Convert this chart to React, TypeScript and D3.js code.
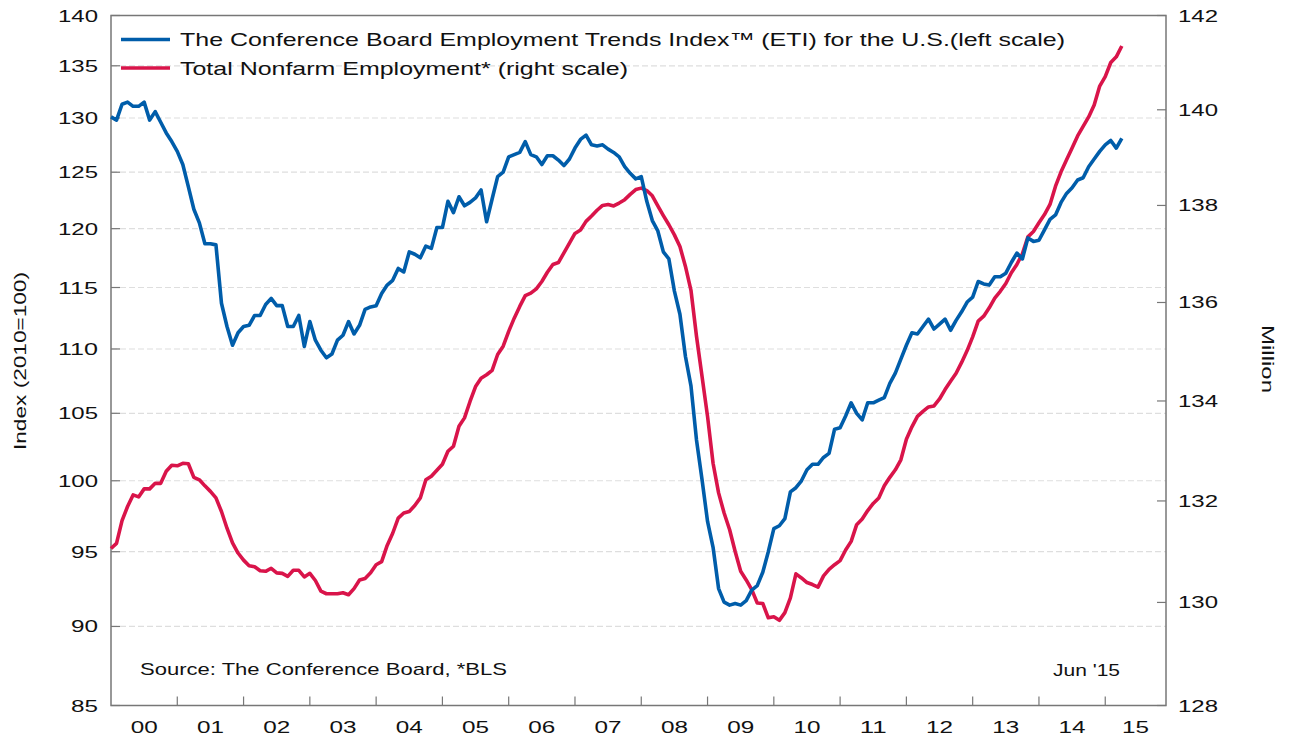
import React from 'react'
import * as d3 from 'd3'

const WIDTH = 1291
const HEIGHT = 740
const LEFT = 111
const RIGHT = 1166
const TOP = 15.5
const BOTTOM = 705.5
const LAST_MONTH = 191 // right edge of the frame, in months after Jan 2000

const BLUE = '#005DAA'
const RED = '#D9144A'
const FONT = '"Liberation Sans", Arial, sans-serif'

const YEAR_LABELS = ['00', '01', '02', '03', '04', '05', '06', '07', '08', '09', '10', '11', '12', '13', '14', '15']
const LEFT_TICKS = [85, 90, 95, 100, 105, 110, 115, 120, 125, 130, 135, 140]
const RIGHT_TICKS = [128, 130, 132, 134, 136, 138, 140, 142]

// Employment Trends Index, monthly from Jan 2000
const eti = [
  130.1, 129.8, 131.3, 131.5, 131.1, 131.1, 131.5, 129.8, 130.6, 129.6, 128.6, 127.8,
  126.9, 125.7, 123.7, 121.7, 120.5, 118.7, 118.7, 118.6, 113.7, 111.8, 110.3, 111.3,
  111.8, 111.9, 112.7, 112.7, 113.6, 114.1, 113.5, 113.5, 111.8, 111.8, 112.7, 110.2,
  112.2, 110.7, 109.9, 109.3, 109.6, 110.7, 111.1, 112.2, 111.2, 111.9, 113.2, 113.4,
  113.5, 114.5, 115.2, 115.6, 116.6, 116.3, 118.0, 117.8, 117.5, 118.5, 118.3, 120.1,
  120.1, 122.4, 121.4, 122.8, 122.0, 122.3, 122.7, 123.4, 120.6, 122.6, 124.6, 125.0,
  126.4, 126.6, 126.8, 127.8, 126.6, 126.4, 125.7, 126.5, 126.5, 126.1, 125.6, 126.2,
  127.2, 128.0, 128.4, 127.5, 127.4, 127.5, 127.1, 126.8, 126.4, 125.5, 124.9, 124.4,
  124.6, 122.4, 120.7, 119.8, 118.0, 117.4, 114.7, 112.8, 109.4, 107.1, 103.0, 100.1,
  97.1, 95.3, 92.5, 91.6, 91.4, 91.5, 91.4, 91.7, 92.4, 92.7, 93.6, 95.0,
  96.6, 96.8, 97.3, 99.2, 99.5, 100.0, 100.8, 101.2, 101.2, 101.7, 102.0, 103.8,
  103.9, 104.8, 105.8, 105.0, 104.5, 105.8, 105.8, 106.0, 106.2, 107.3, 108.1, 109.2,
  110.3, 111.3, 111.2, 111.8, 112.4, 111.6, 112.0, 112.4, 111.5, 112.3, 113.0, 113.8,
  114.2, 115.5, 115.3, 115.2, 115.9, 115.9, 116.2, 117.1, 117.9, 117.4, 119.2, 118.9,
  119.0, 119.9, 120.8, 121.2, 122.3, 123.1, 123.6, 124.3, 124.5, 125.5, 126.2, 126.9,
  127.5, 127.9, 127.2, 128.1,
]

// Total nonfarm employment (millions), monthly from Jan 2000
const nonfarm = [
  131.06, 131.16, 131.61, 131.89, 132.12, 132.08, 132.24, 132.24, 132.35, 132.35, 132.59, 132.71,
  132.70, 132.75, 132.74, 132.47, 132.42, 132.30, 132.19, 132.06, 131.79, 131.46, 131.17, 130.97,
  130.83, 130.72, 130.70, 130.62, 130.61, 130.67, 130.58, 130.57, 130.51, 130.63, 130.63, 130.50,
  130.57, 130.43, 130.22, 130.17, 130.17, 130.17, 130.19, 130.15, 130.27, 130.44, 130.47, 130.58,
  130.74, 130.80, 131.12, 131.36, 131.66, 131.76, 131.79, 131.91, 132.06, 132.42, 132.49, 132.61,
  132.73, 132.99, 133.09, 133.49, 133.66, 133.99, 134.29, 134.46, 134.53, 134.62, 134.94, 135.11,
  135.41, 135.68, 135.92, 136.14, 136.19, 136.28, 136.43, 136.62, 136.78, 136.82, 137.02, 137.22,
  137.42, 137.49, 137.67, 137.78, 137.90, 138.00, 138.02, 137.99, 138.05, 138.12, 138.23, 138.33,
  138.36, 138.31, 138.20, 137.99, 137.79, 137.60, 137.39, 137.15, 136.74, 136.25, 135.31, 134.50,
  133.69, 132.75, 132.16, 131.76, 131.43, 131.00, 130.61, 130.44, 130.25, 129.99, 129.98, 129.70,
  129.72, 129.65, 129.80, 130.09, 130.56, 130.48, 130.39, 130.35, 130.30, 130.52, 130.65, 130.74,
  130.82, 131.03, 131.20, 131.53, 131.64, 131.81, 131.95, 132.06, 132.30, 132.47, 132.62, 132.82,
  133.23, 133.48, 133.69, 133.79, 133.88, 133.90, 134.04, 134.23, 134.40, 134.56, 134.78, 135.02,
  135.30, 135.62, 135.72, 135.89, 136.09, 136.23, 136.39, 136.61, 136.78, 137.00, 137.35, 137.46,
  137.64, 137.81, 138.02, 138.40, 138.70, 138.95, 139.20, 139.45, 139.65, 139.85, 140.10, 140.50,
  140.70, 141.00, 141.12, 141.35,
]

const x = d3.scaleLinear().domain([0, LAST_MONTH]).range([LEFT, RIGHT])
const yLeft = d3.scaleLog().domain([85, 140]).range([BOTTOM, TOP])
const yRight = d3.scaleLog().domain([128, 142]).range([BOTTOM, TOP])

const etiLine = d3.line<number>()
  .x((_, i) => x(i))
  .y(d => yLeft(d))

const nonfarmLine = d3.line<number>()
  .x((_, i) => x(i))
  .y(d => yRight(d))

function Label({ x, y, width, size = 17, anchor = 'start', rotate = 0, children }: any) {
  return (
    <text
      transform={`translate(${x},${y}) rotate(${rotate})`}
      fontSize={size}
      textAnchor={anchor}
      textLength={width}
      lengthAdjust="spacingAndGlyphs"
      fill="#111"
    >
      {children}
    </text>
  )
}

export default function App() {
  return (
    <svg
      width={WIDTH}
      height={HEIGHT}
      style={{ position: 'absolute', left: 0, top: 0, background: '#fff' }}
      fontFamily={FONT}
    >
      {/* grid */}
      {LEFT_TICKS.slice(1, -1).map(t => (
        <line key={t} x1={LEFT} x2={RIGHT} y1={yLeft(t)} y2={yLeft(t)}
          stroke="#dedede" strokeWidth={1.2} strokeDasharray="6 3" />
      ))}

      {/* left ticks and labels */}
      {LEFT_TICKS.map(t => (
        <g key={t}>
          <line x1={LEFT} x2={LEFT + 9} y1={yLeft(t)} y2={yLeft(t)} stroke="#777" strokeWidth={1.2} />
          <Label x={98} y={yLeft(t) + 6} width={t >= 100 ? 40 : 27} anchor="end">{t}</Label>
        </g>
      ))}

      {/* right ticks and labels */}
      {RIGHT_TICKS.map(t => (
        <g key={t}>
          <line x1={RIGHT - 9} x2={RIGHT} y1={yRight(t)} y2={yRight(t)} stroke="#777" strokeWidth={1.2} />
          <Label x={1178} y={yRight(t) + 6} width={40}>{t}</Label>
        </g>
      ))}

      {/* year ticks and labels */}
      {YEAR_LABELS.map((label, i) => {
        const x0 = x(i * 12)
        const x1 = Math.min(x((i + 1) * 12), RIGHT)
        return (
          <g key={label}>
            {i > 0 && <line x1={x0} x2={x0} y1={BOTTOM} y2={BOTTOM - 9} stroke="#777" strokeWidth={1.2} />}
            <Label x={(x0 + x1) / 2} y={733} width={27} anchor="middle">{label}</Label>
          </g>
        )
      })}

      {/* frame */}
      <rect x={LEFT} y={TOP} width={RIGHT - LEFT} height={BOTTOM - TOP} fill="none" stroke="#777" strokeWidth={1.5} />

      {/* series */}
      <path d={nonfarmLine(nonfarm) || ''} fill="none" stroke={RED} strokeWidth={3.6} strokeLinejoin="round" />
      <path d={etiLine(eti) || ''} fill="none" stroke={BLUE} strokeWidth={3.6} strokeLinejoin="round" />

      {/* legend */}
      <line x1={121} x2={170} y1={39.5} y2={39.5} stroke={BLUE} strokeWidth={3.6} />
      <Label x={180} y={46} width={885} size={18.5}>
        The Conference Board Employment Trends Index™ (ETI) for the U.S.(left scale)
      </Label>
      <line x1={121} x2={170} y1={68} y2={68} stroke={RED} strokeWidth={3.6} />
      <Label x={180} y={75} width={448} size={18.5}>Total Nonfarm Employment* (right scale)</Label>

      {/* notes */}
      <Label x={140} y={675} width={367} size={17}>Source: The Conference Board, *BLS</Label>
      <Label x={1053} y={676} width={67} size={16}>Jun '15</Label>

      {/* axis titles */}
      <Label x={26} y={361} width={178} size={17} anchor="middle" rotate={-90}>Index (2010=100)</Label>
      <Label x={1262} y={359} width={68} size={17} anchor="middle" rotate={90}>Million</Label>
    </svg>
  )
}
